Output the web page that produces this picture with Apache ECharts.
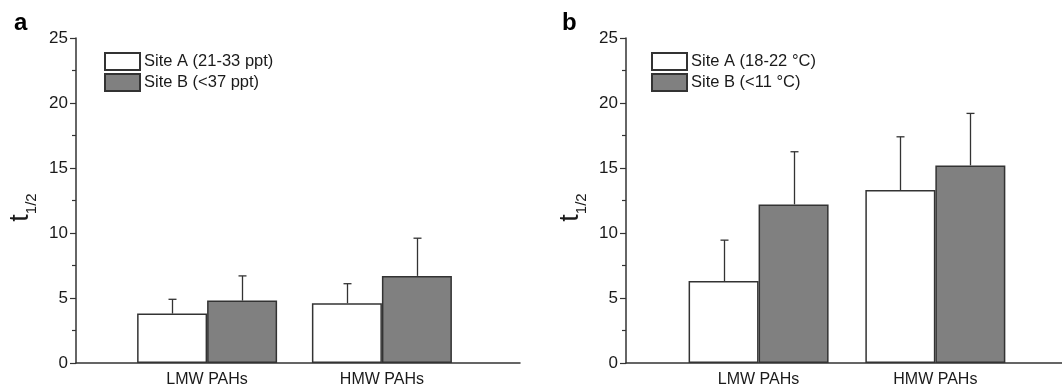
<!DOCTYPE html>
<html>
<head>
<meta charset="utf-8">
<script src="https://cdn.jsdelivr.net/npm/echarts@6/dist/echarts.min.js"></script>
<style>
  html, body { margin: 0; padding: 0; background: #fff; }
  #chart { width: 1062px; height: 390px; }
</style>
</head>
<body>
<div id="chart"></div>
<script>
// categories and values (half-life, t1/2)
const categories = ['LMW PAHs', 'HMW PAHs']
const yTicks = [0, 5, 10, 15, 20, 25]

// panel a: salinity
const salA = [3.8, 4.6]
const salAErr = [1.1, 1.5]
const salB = [4.8, 6.7]
const salBErr = [1.9, 2.9]

// panel b: temperature
const tempA = [6.3, 13.3]
const tempAErr = [3.15, 4.1]
const tempB = [12.2, 15.2]
const tempBErr = [4.05, 4.0]

const names = {
  salA: 'Site A (21-33 ppt)',
  salB: 'Site B (<37 ppt)',
  tempA: 'Site A (18-22 °C)',
  tempB: 'Site B (<11 °C)'
}

const fontFamily = 'Liberation Sans, Arial, sans-serif'
const axisColor = '#333'
const textColor = '#1a1a1a'
const barWidth = 70

function toPoints(values) {
  return values.map((v, i) => [i + 1, v])
}

function errPoints(values, errs) {
  return values.map((v, i) => [i + 1, v, v + errs[i]])
}

function barSeries(name, values, idx, color) {
  return {
    name: name,
    type: 'bar',
    xAxisIndex: idx,
    yAxisIndex: idx,
    barWidth: barWidth,
    barGap: '0%',
    data: toPoints(values),
    itemStyle: {
      color: color,
      borderColor: axisColor,
      borderWidth: 1.5
    },
    silent: true
  }
}

function errorSeries(values, errs, idx, offset) {
  return {
    type: 'custom',
    xAxisIndex: idx,
    yAxisIndex: idx,
    z: 5,
    silent: true,
    data: errPoints(values, errs),
    encode: { x: 0, y: 1 },
    renderItem: function(params, api) {
      const base = api.coord([api.value(0), api.value(1)])
      const top = api.coord([api.value(0), api.value(2)])
      const x = Math.round(base[0] + offset) + 0.5
      const style = { stroke: axisColor, lineWidth: 1.3 }
      return {
        type: 'group',
        children: [
          { type: 'line', shape: { x1: x, y1: base[1], x2: x, y2: top[1] }, style: style },
          { type: 'line', shape: { x1: x - 4, y1: top[1], x2: x + 4, y2: top[1] }, style: style }
        ]
      }
    }
  }
}

function xAxis(idx) {
  return {
    type: 'value',
    gridIndex: idx,
    min: 0.25,
    max: 2.79,
    splitLine: { show: false },
    axisLine: { onZero: false, lineStyle: { color: axisColor, width: 1.5 } },
    axisTick: { show: false },
    axisLabel: {
      customValues: categories.map((c, i) => i + 1),
      formatter: function(v) { return categories[Math.round(v) - 1] || '' },
      color: textColor,
      fontSize: 16,
      fontFamily: fontFamily,
      margin: 9
    }
  }
}

function yAxis(idx) {
  return {
    type: 'value',
    gridIndex: idx,
    min: yTicks[0],
    max: yTicks[yTicks.length - 1],
    interval: 5,
    name: '{t|t}{s|1/2}',
    nameLocation: 'middle',
    nameRotate: 90,
    nameGap: 37,
    nameTextStyle: {
      padding: [0, 14, 0, 0],
      rich: {
        t: { fontSize: 27, fontFamily: fontFamily, color: textColor, verticalAlign: 'bottom', padding: [0, 0, 5, 0] },
        s: { fontSize: 15, fontFamily: fontFamily, color: textColor, verticalAlign: 'bottom' }
      }
    },
    splitLine: { show: false },
    axisLine: { show: true, lineStyle: { color: axisColor, width: 1.5 } },
    axisTick: { show: true, inside: false, length: 6, lineStyle: { color: axisColor, width: 1.2 } },
    minorTick: { show: true, splitNumber: 2, length: 4, lineStyle: { color: axisColor, width: 1.2 } },
    axisLabel: {
      color: textColor,
      fontSize: 17,
      fontFamily: fontFamily,
      margin: 8
    }
  }
}

function legend(left, items) {
  return {
    left: left,
    top: 52,
    padding: 0,
    orient: 'vertical',
    icon: 'rect',
    itemWidth: 35,
    itemHeight: 17,
    itemGap: 2,
    selectedMode: false,
    data: items,
    textStyle: { color: textColor, fontSize: 16.5, fontFamily: fontFamily, padding: [0, 0, 0, -1] }
  }
}

const chart = echarts.init(document.getElementById('chart'), null, { renderer: 'canvas' })

chart.setOption({
  animation: false,
  backgroundColor: '#fff',
  title: [
    { text: 'a', left: 9, top: 6, textStyle: { fontSize: 24, fontWeight: 'bold', color: '#000', fontFamily: fontFamily } },
    { text: 'b', left: 557, top: 6, textStyle: { fontSize: 24, fontWeight: 'bold', color: '#000', fontFamily: fontFamily } }
  ],
  legend: [
    legend(104, [names.salA, names.salB]),
    legend(651, [names.tempA, names.tempB])
  ],
  grid: [
    { left: 76, top: 38, width: 444, height: 325, outerBoundsMode: 'none' },
    { left: 626, top: 38, width: 449, height: 325, outerBoundsMode: 'none' }
  ],
  xAxis: [xAxis(0), xAxis(1)],
  yAxis: [yAxis(0), yAxis(1)],
  series: [
    barSeries(names.salA, salA, 0, '#ffffff'),
    barSeries(names.salB, salB, 0, '#808080'),
    errorSeries(salA, salAErr, 0, -barWidth / 2),
    errorSeries(salB, salBErr, 0, barWidth / 2),
    barSeries(names.tempA, tempA, 1, '#ffffff'),
    barSeries(names.tempB, tempB, 1, '#808080'),
    errorSeries(tempA, tempAErr, 1, -barWidth / 2),
    errorSeries(tempB, tempBErr, 1, barWidth / 2)
  ]
})
</script>
</body>
</html>
